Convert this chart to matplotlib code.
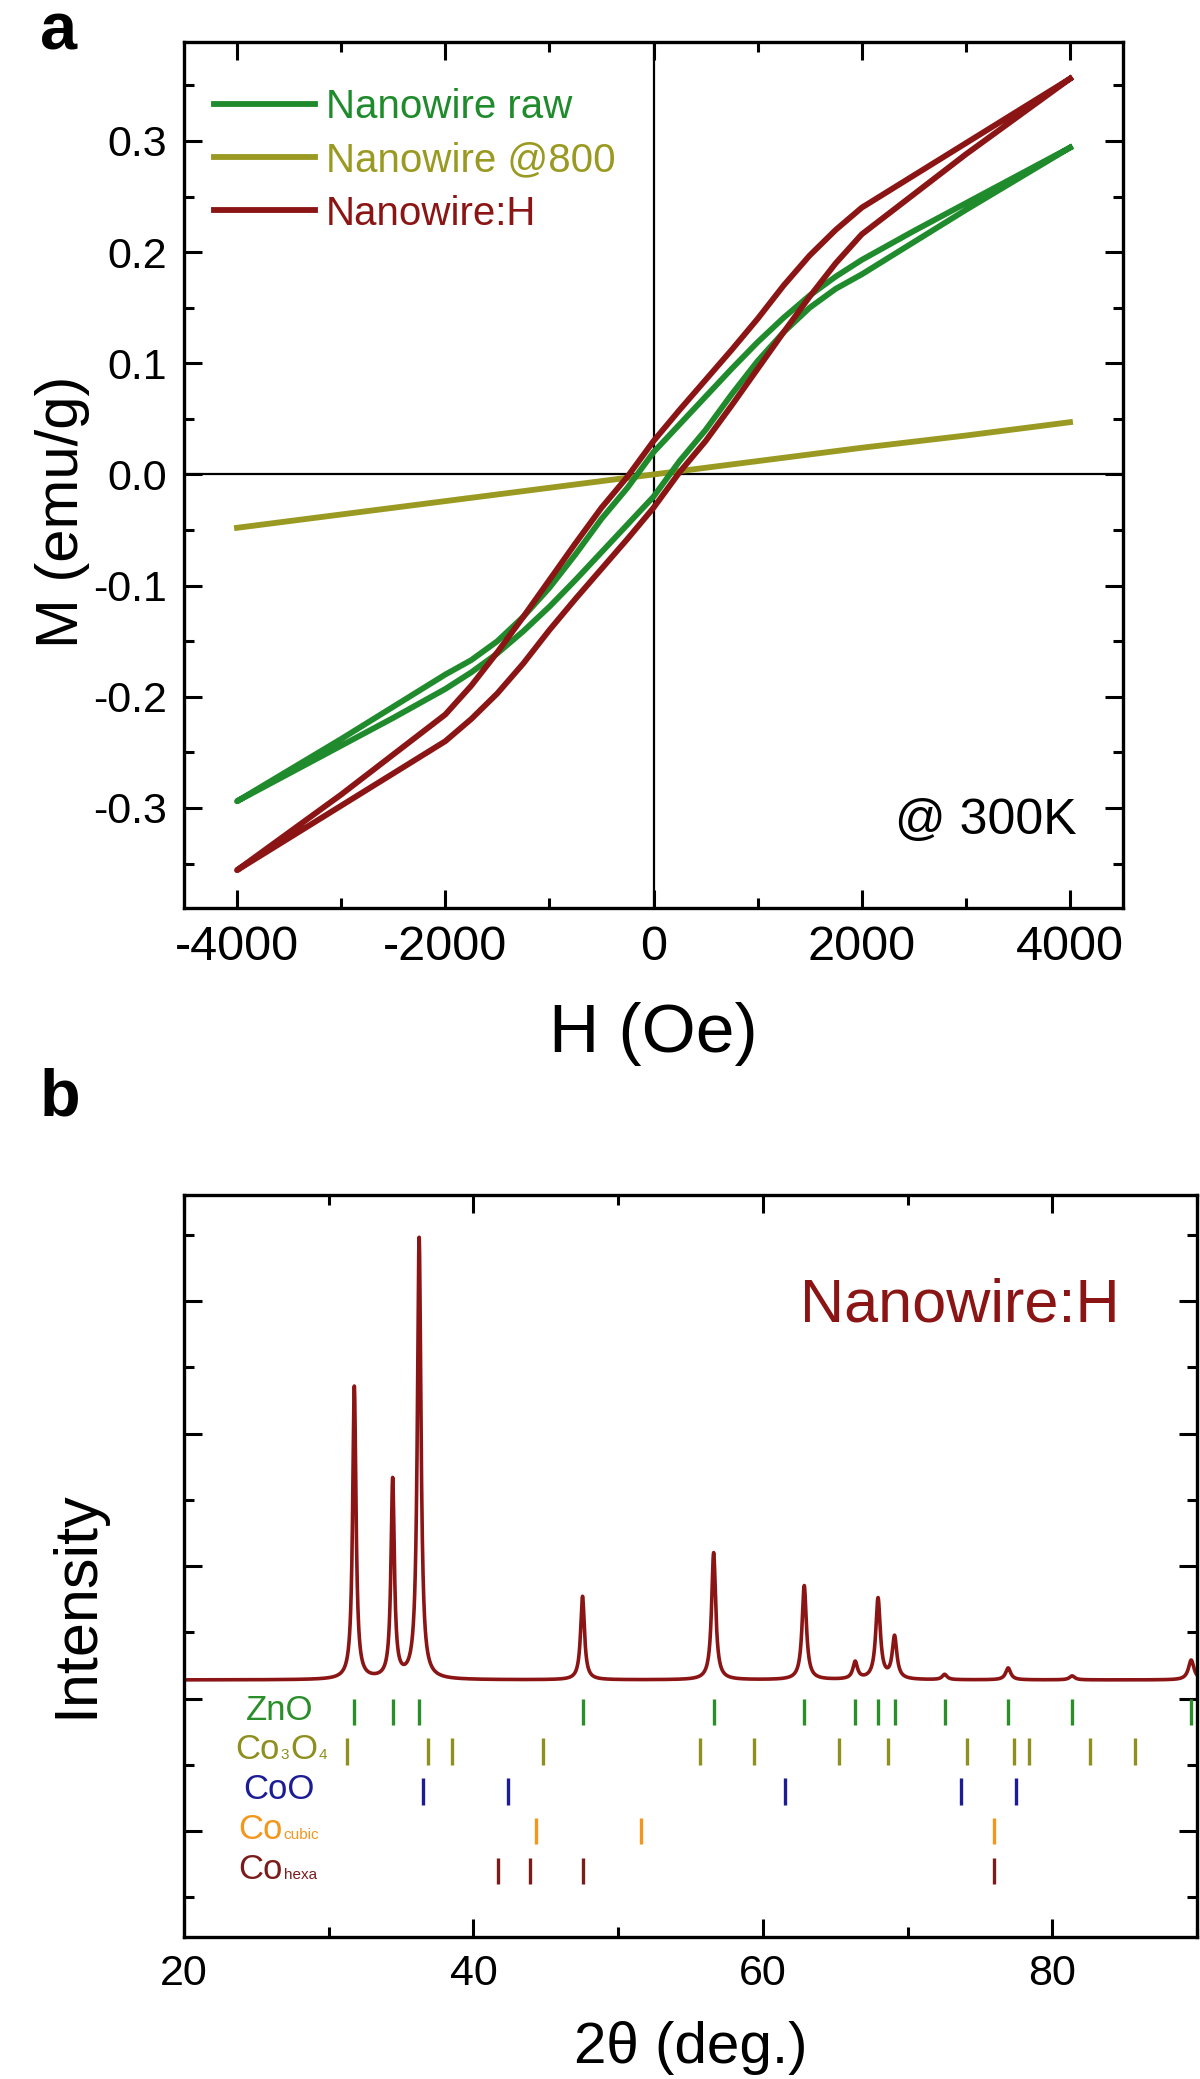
import numpy as np
import matplotlib
matplotlib.use("Agg")
import matplotlib.pyplot as plt
from matplotlib.ticker import MultipleLocator, NullFormatter
from matplotlib.offsetbox import TextArea, HPacker, AnnotationBbox

plt.rcParams['font.family'] = ['Liberation Sans', 'DejaVu Sans']
plt.rcParams['axes.unicode_minus'] = False

# ---------------- Panel a data: M-H loops ----------------
H_desc = [4000, 3500, 3000, 2500, 2000, 1750, 1500, 1250, 1000, 750, 500, 250, 0,
          -250, -500, -750, -1000, -1250, -1500, -1750, -2000, -2500, -3000, -3500, -4000]
H_asc = [-4000, -3500, -3000, -2500, -2000, -1750, -1500, -1250, -1000, -750, -500, -250, 0,
         250, 500, 750, 1000, 1250, 1500, 1750, 2000, 2500, 3000, 3500, 4000]

raw_desc = [0.294, 0.269, 0.244, 0.219, 0.193, 0.178, 0.161, 0.141, 0.119, 0.095, 0.070, 0.045, 0.020,
            -0.012, -0.040, -0.072, -0.102, -0.128, -0.150, -0.167, -0.180, -0.209, -0.238, -0.266, -0.294]
raw_asc = [-0.294, -0.269, -0.244, -0.219, -0.193, -0.178, -0.161, -0.141, -0.119, -0.095, -0.070, -0.045, -0.020,
           0.012, 0.040, 0.072, 0.102, 0.128, 0.150, 0.167, 0.180, 0.209, 0.238, 0.266, 0.294]

h_desc = [0.356, 0.327, 0.298, 0.269, 0.240, 0.220, 0.197, 0.170, 0.140, 0.112, 0.085, 0.058, 0.030,
          -0.002, -0.030, -0.062, -0.095, -0.128, -0.160, -0.190, -0.216, -0.252, -0.288, -0.322, -0.356]
h_asc = [-0.356, -0.327, -0.298, -0.269, -0.240, -0.220, -0.197, -0.170, -0.140, -0.112, -0.085, -0.058, -0.030,
         0.002, 0.030, 0.062, 0.095, 0.128, 0.160, 0.190, 0.216, 0.252, 0.288, 0.322, 0.356]

H_800 = [-4000, -3000, -2000, -1000, 0, 1000, 2000, 3000, 4000]
M_800 = [-0.048, -0.036, -0.024, -0.012, 0.000, 0.012, 0.024, 0.035, 0.047]

labels_a = ["Nanowire raw", "Nanowire @800", "Nanowire:H"]
colors_a = ["#1f8b2c", "#9a9a22", "#8b1515"]
yticks_a = [-0.3, -0.2, -0.1, 0.0, 0.1, 0.2, 0.3]
yticklabels_a = ["-0.3", "-0.2", "-0.1", "0.0", "0.1", "0.2", "0.3"]

# ---------------- Panel b data: XRD ----------------
peak_pos = [31.77, 34.42, 36.25, 47.54, 56.60, 62.86, 66.38, 67.96, 69.10, 72.56, 76.95, 81.37, 89.60]
peak_top = [3.35, 2.64, 4.47, 1.77, 2.10, 1.85, 1.27, 1.75, 1.46, 1.18, 1.23, 1.17, 1.29]
peak_fwhm = [0.28, 0.28, 0.30, 0.32, 0.34, 0.36, 0.38, 0.38, 0.38, 0.40, 0.42, 0.44, 0.46]
baseline = 1.14

# reference-pattern labels as (text, is_subscript) parts
ref_names = [
    [("ZnO", False)],
    [("Co", False), ("3", True), ("O", False), ("4", True)],
    [("CoO", False)],
    [("Co", False), ("cubic", True)],
    [("Co", False), ("hexa", True)],
]
ref_colors = ["#2a8f2a", "#8f8f1f", "#1c1c96", "#f4961e", "#7a1c1c"]
ref_rows = [0.9, 0.6, 0.3, 0.0, -0.3]
ref_label_x = [24.28, 23.52, 24.07, 23.73, 23.73]
ref_peaks = [
    [31.77, 34.42, 36.25, 47.54, 56.60, 62.86, 66.38, 67.96, 69.10, 72.56, 76.95, 81.37, 89.60],
    [31.27, 36.85, 38.54, 44.81, 55.66, 59.36, 65.24, 68.63, 74.12, 77.34, 78.40, 82.60, 85.70],
    [36.50, 42.40, 61.50, 73.70, 77.50],
    [44.30, 51.60, 75.95],
    [41.70, 43.90, 47.55, 75.95],
]

fig = plt.figure(figsize=(12, 20.79), dpi=100)

# ================= Panel a =================
axa = fig.add_axes([184/1200, 1-908/2079, (1123-184)/1200, (908-42)/2079])
axa.axhline(0, color='black', lw=1.6, zorder=1)
axa.axvline(0, color='black', lw=1.6, zorder=1)
axa.plot(H_desc + H_asc, raw_desc + raw_asc, color=colors_a[0], lw=4.2, label=labels_a[0], zorder=3)
axa.plot(H_800, M_800, color=colors_a[1], lw=4.2, label=labels_a[1], zorder=2)
axa.plot(H_desc + H_asc, h_desc + h_asc, color=colors_a[2], lw=4.2, label=labels_a[2], zorder=4)
axa.set_xlim(-4509, 4509)
axa.set_ylim(-0.39, 0.389)
axa.xaxis.set_major_locator(MultipleLocator(2000))
axa.xaxis.set_minor_locator(MultipleLocator(1000))
axa.yaxis.set_minor_locator(MultipleLocator(0.05))
axa.set_yticks(yticks_a)
axa.set_yticklabels(yticklabels_a)
axa.tick_params(which='both', direction='in', top=True, right=True, width=2.2)
axa.tick_params(which='major', length=13, pad=12)
axa.tick_params(which='minor', length=7)
axa.tick_params(axis='x', labelsize=35)
axa.tick_params(axis='y', labelsize=31)
for s in axa.spines.values():
    s.set_linewidth(2.4)
axa.set_xlabel("H (Oe)", fontsize=50)
axa.xaxis.set_label_coords(0.5, -0.166)
axa.xaxis.label.set_va('baseline')
axa.set_ylabel("M (emu/g)", fontsize=43, va='center', ha='center')
axa.yaxis.set_label_coords(-0.129, 0.457)
leg = axa.legend(loc='upper left', bbox_to_anchor=(0.032, 0.947), frameon=False,
                 borderpad=0, borderaxespad=0, handlelength=2.5, handletextpad=0.28,
                 labelspacing=0.38, fontsize=29, labelcolor='linecolor')
axa.text(0.951, 0.0855, "@ 300K", transform=axa.transAxes, ha='right', va='baseline', fontsize=36)

# ================= Panel b =================
axb = fig.add_axes([184/1200, 1-1937/2079, (1197-184)/1200, (1937-1195)/2079])
tt = np.linspace(20, 90, 7001)
intensity = np.full_like(tt, baseline)
for p, top, w in zip(peak_pos, peak_top, peak_fwhm):
    g = w / 2.0
    intensity += (top - baseline) * g**2 / ((tt - p)**2 + g**2)
axb.plot(tt, intensity, color="#8b1515", lw=2.6, clip_on=True)
for parts, col, row, lx, pk in zip(ref_names, ref_colors, ref_rows, ref_label_x, ref_peaks):
    axb.vlines(pk, row - 0.1, row + 0.1, color=col, lw=2.4)
    areas = [TextArea(t, textprops=dict(color=col, fontsize=(11 if sub else 25)))
             for t, sub in parts]
    box = HPacker(children=areas, align="baseline", pad=0, sep=1)
    ab = AnnotationBbox(box, (lx, row), xycoords='data', box_alignment=(0, 0.45),
                        frameon=False, pad=0)
    axb.add_artist(ab)
axb.text(0.924, 0.829, "Nanowire:H", transform=axb.transAxes, ha='right', va='baseline',
         fontsize=44, color="#8b1515")
axb.set_xlim(20, 90)
axb.set_ylim(-0.8, 4.8)
axb.xaxis.set_major_locator(MultipleLocator(20))
axb.xaxis.set_minor_locator(MultipleLocator(10))
axb.yaxis.set_major_locator(MultipleLocator(1))
axb.yaxis.set_minor_locator(MultipleLocator(0.5))
axb.yaxis.set_major_formatter(NullFormatter())
axb.tick_params(which='both', direction='in', top=True, right=True, width=2.2, labelsize=31)
axb.tick_params(which='major', length=13, pad=12)
axb.tick_params(which='minor', length=7)
for s in axb.spines.values():
    s.set_linewidth(2.4)
axb.set_xlabel("2\u03b8 (deg.)", fontsize=42)
axb.xaxis.set_label_coords(0.5, -0.170)
axb.xaxis.label.set_va('baseline')
axb.set_ylabel("Intensity", fontsize=44, va='center', ha='center')
axb.yaxis.set_label_coords(-0.106, 0.449)

fig.text(40/1200, 1-2/2079, "a", fontsize=48, fontweight='bold', ha='left', va='top')
fig.text(40/1200, 1-1068/2079, "b", fontsize=48, fontweight='bold', ha='left', va='top')

fig.savefig("out.png", dpi=100)
